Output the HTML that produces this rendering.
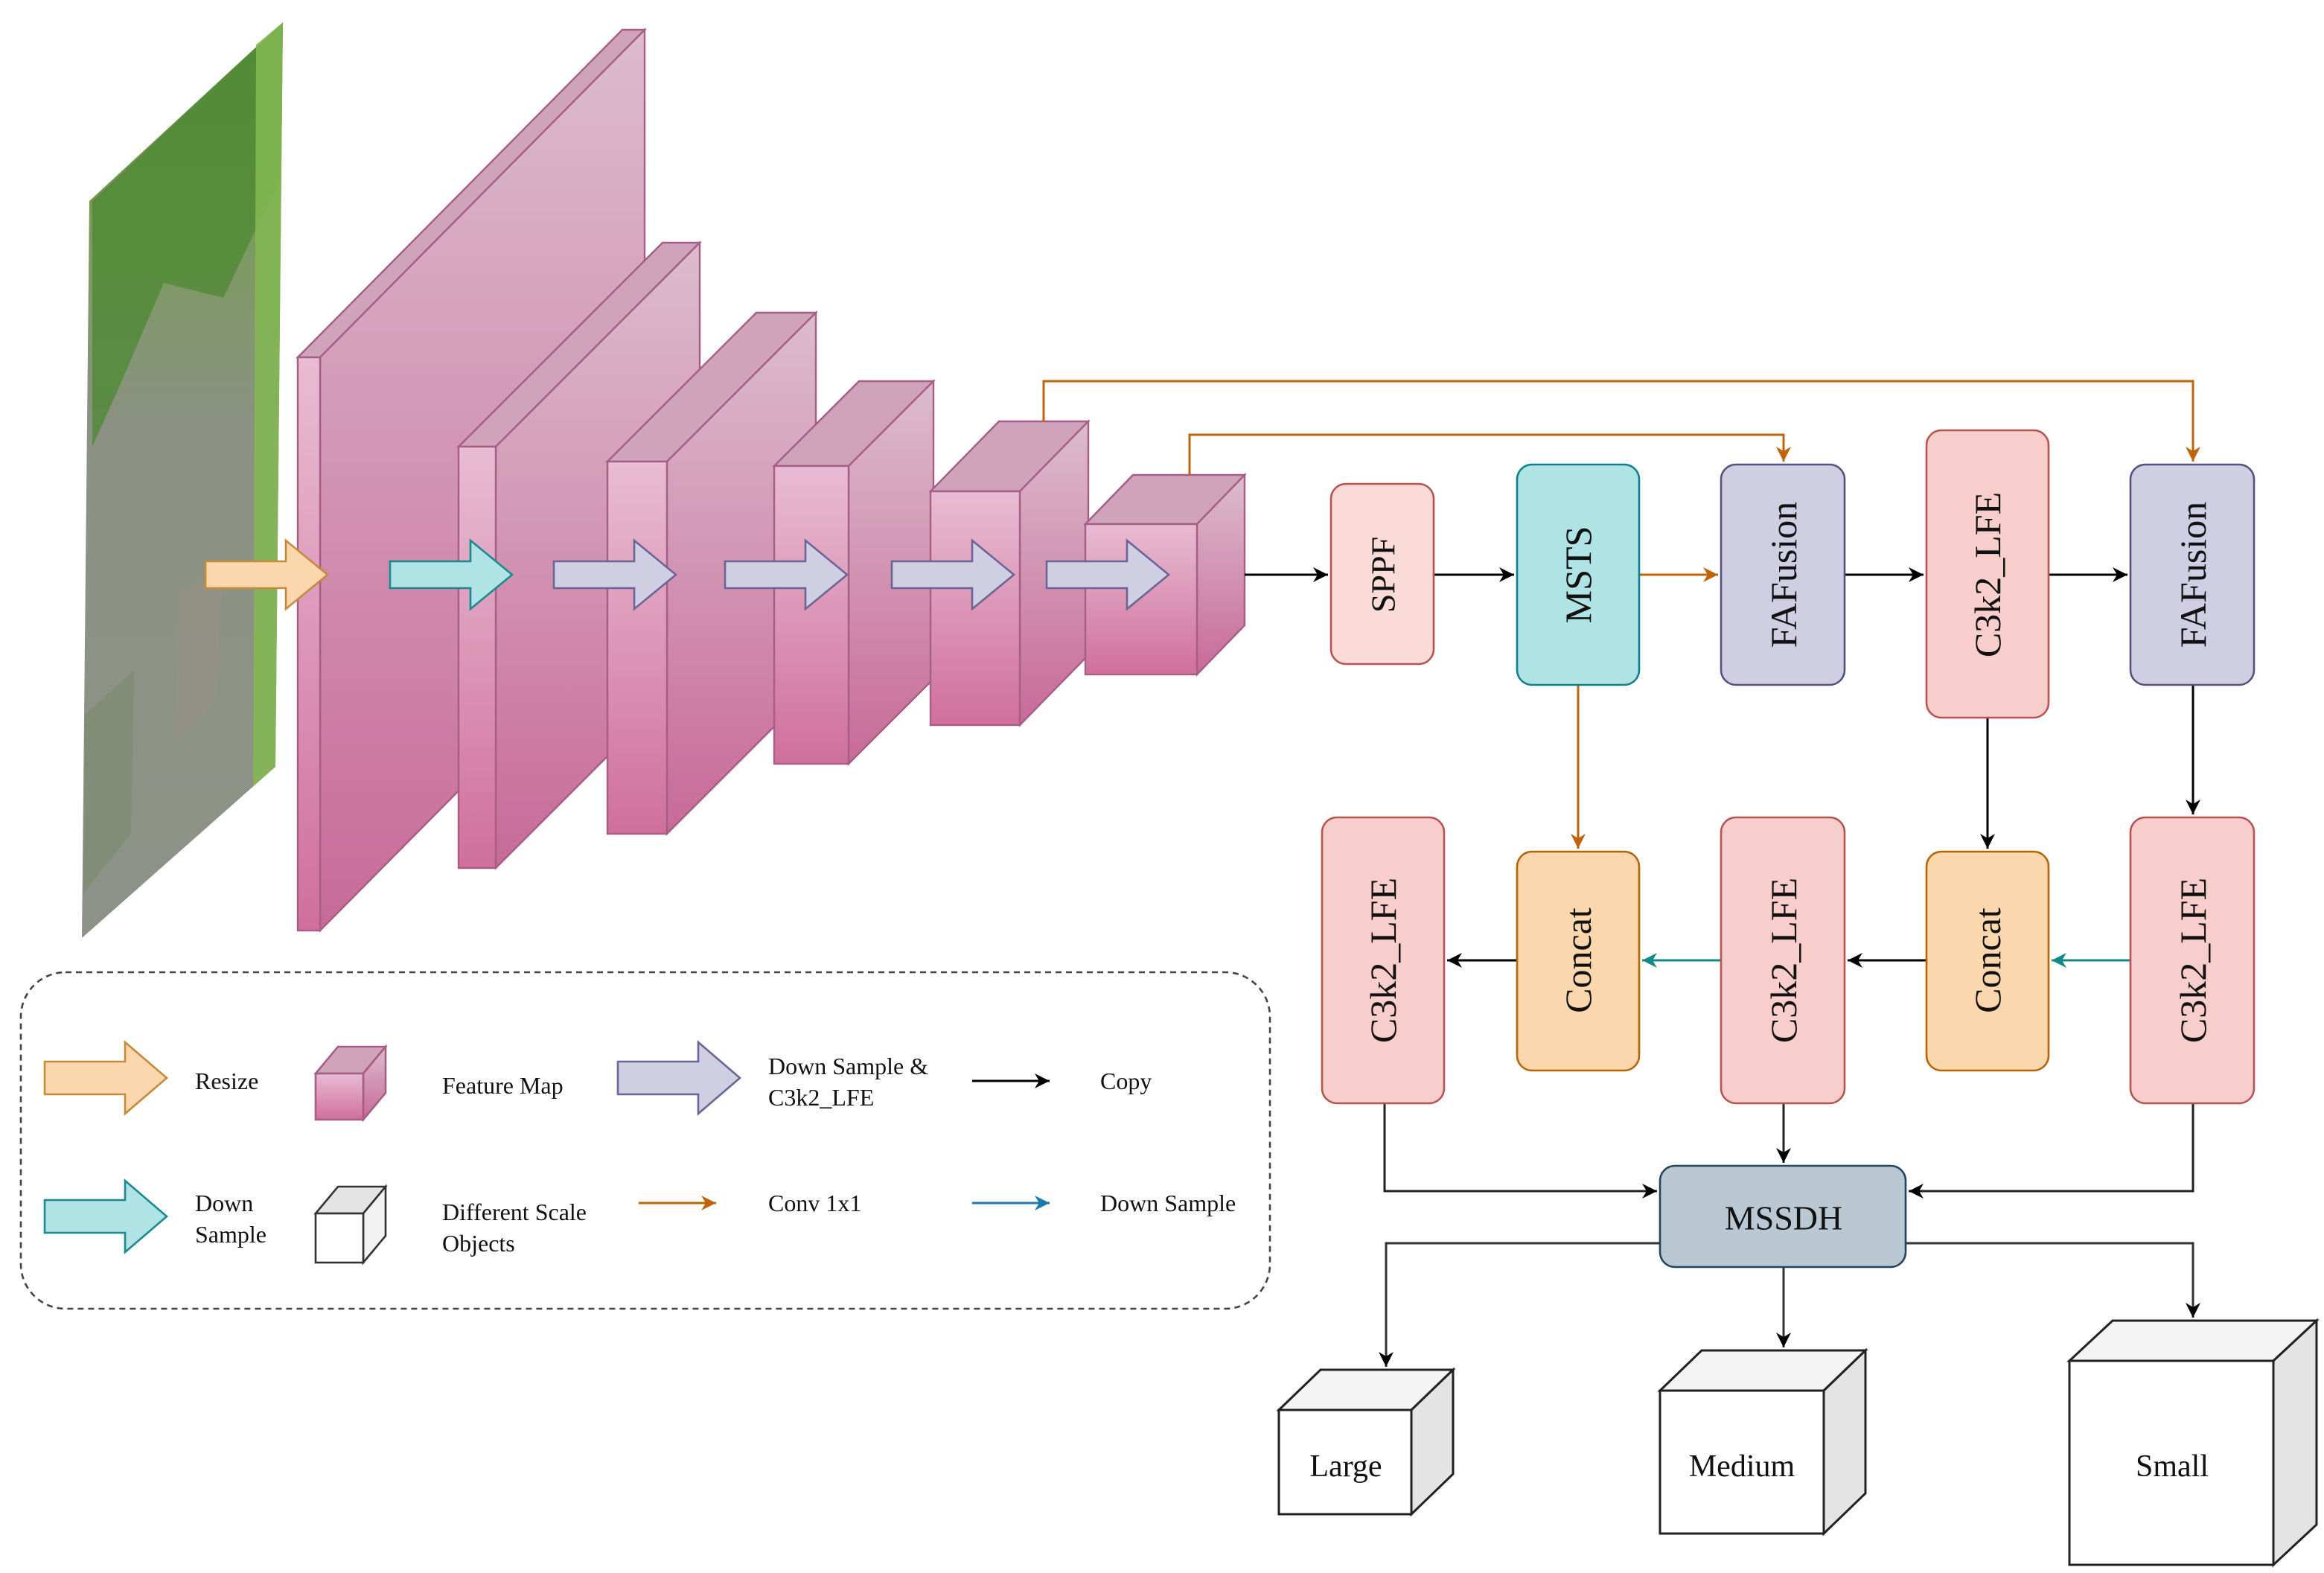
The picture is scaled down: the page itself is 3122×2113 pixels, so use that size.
<!DOCTYPE html>
<html><head><meta charset="utf-8"><style>html,body{margin:0;padding:0;background:#fff}svg{display:block}svg text{font-family:"Liberation Serif","DejaVu Serif",serif}</style></head><body>
<svg width="3122" height="2113" viewBox="0 0 1561 1056.5" xmlns="http://www.w3.org/2000/svg" style="font-family:'Liberation Serif',serif">
<defs>
<linearGradient id="gf" x1="0" y1="0" x2="0" y2="1"><stop offset="0" stop-color="#e8bcd2"/><stop offset="1" stop-color="#d06f9c"/></linearGradient>
<linearGradient id="gs" x1="0" y1="0" x2="0" y2="1"><stop offset="0" stop-color="#dcbccd"/><stop offset="1" stop-color="#c86a98"/></linearGradient>
<linearGradient id="gp" x1="0" y1="0" x2="0" y2="1"><stop offset="0" stop-color="#5d8e3a"/><stop offset="0.25" stop-color="#7d9a62"/><stop offset="0.45" stop-color="#8c9184"/><stop offset="1" stop-color="#8d9288"/></linearGradient>
<marker id="mk" markerUnits="userSpaceOnUse" markerWidth="12" markerHeight="12" refX="10" refY="5" orient="auto"><path d="M0,0 L10,5 L0,10 L3,5 Z" fill="#000"/></marker>
<marker id="mo" markerUnits="userSpaceOnUse" markerWidth="12" markerHeight="12" refX="10" refY="5" orient="auto"><path d="M0,0 L10,5 L0,10 L3,5 Z" fill="#c0640a"/></marker>
<marker id="mt" markerUnits="userSpaceOnUse" markerWidth="12" markerHeight="12" refX="10" refY="5" orient="auto"><path d="M0,0 L10,5 L0,10 L3,5 Z" fill="#128a8a"/></marker>
<marker id="mb" markerUnits="userSpaceOnUse" markerWidth="12" markerHeight="12" refX="10" refY="5" orient="auto"><path d="M0,0 L10,5 L0,10 L3,5 Z" fill="#1a7ab0"/></marker>
</defs>

<!-- photo -->
<polygon points="60,135 190,15 185,515 55,630" fill="url(#gp)"/>
<polygon points="62,135 190,15 188,120 150,200 110,190 80,260 62,300" fill="#4f8a34" opacity="0.8"/>
<polygon points="172,30 190,15 185,515 170,528" fill="#84b852" opacity="0.85"/>
<polygon points="57,480 90,450 88,560 56,600" fill="#7a8a6a" opacity="0.6"/>
<polygon points="120,400 150,380 145,470 118,500" fill="#9a8f84" opacity="0.5"/>

<!-- feature maps -->
<g stroke="#a65d86" stroke-width="1.2">
<polygon points="200,240 418,20 433,20 215,240" fill="#cfa4bb"/>
<polygon points="215,240 433,20 433,405 215,625" fill="url(#gs)"/>
<rect x="200" y="240" width="15" height="385" fill="url(#gf)"/>
<polygon points="308,300 445,163 470,163 333,300" fill="#cfa4bb"/>
<polygon points="333,300 470,163 470,446 333,583" fill="url(#gs)"/>
<rect x="308" y="300" width="25" height="283" fill="url(#gf)"/>
<polygon points="408,310 508,210 548,210 448,310" fill="#cfa4bb"/>
<polygon points="448,310 548,210 548,460 448,560" fill="url(#gs)"/>
<rect x="408" y="310" width="40" height="250" fill="url(#gf)"/>
<polygon points="520,313 577,256 627,256 570,313" fill="#cfa4bb"/>
<polygon points="570,313 627,256 627,456 570,513" fill="url(#gs)"/>
<rect x="520" y="313" width="50" height="200" fill="url(#gf)"/>
<polygon points="625,330 671,283 731,283 685,330" fill="#cfa4bb"/>
<polygon points="685,330 731,283 731,440 685,487" fill="url(#gs)"/>
<rect x="625" y="330" width="60" height="157" fill="url(#gf)"/>
<polygon points="729,352 761,319 836,319 804,352" fill="#cfa4bb"/>
<polygon points="804,352 836,319 836,420 804,453" fill="url(#gs)"/>
<rect x="729" y="352" width="75" height="101" fill="url(#gf)"/>
</g>

<!-- block arrows -->
<g stroke-width="1.3">
<path d="M138,377 L192,377 L192,363 L220,386 L192,409 L192,395 L138,395 Z" fill="#fad7ac" stroke="#c88a3a"/>
<path d="M262,377 L316,377 L316,363 L344,386 L316,409 L316,395 L262,395 Z" fill="#b0e3e6" stroke="#1a8a90"/>
<path d="M372,377 L426,377 L426,363 L454,386 L426,409 L426,395 L372,395 Z" fill="#d0cee2" stroke="#6a6596"/>
<path d="M487,377 L541,377 L541,363 L569,386 L541,409 L541,395 L487,395 Z" fill="#d0cee2" stroke="#6a6596"/>
<path d="M599,377 L653,377 L653,363 L681,386 L653,409 L653,395 L599,395 Z" fill="#d0cee2" stroke="#6a6596"/>
<path d="M703,377 L757,377 L757,363 L785,386 L757,409 L757,395 L703,395 Z" fill="#d0cee2" stroke="#6a6596"/>
</g>

<!-- connectors -->
<g fill="none" stroke-width="1.5">
<path d="M701,283 V256 H1473 V310" stroke="#c0640a" marker-end="url(#mo)"/>
<path d="M799,319 V292 H1198 V310" stroke="#c0640a" marker-end="url(#mo)"/>
<path d="M1101,386 H1154" stroke="#c0640a" marker-end="url(#mo)"/>
<path d="M1060,460 V570" stroke="#c0640a" marker-end="url(#mo)"/>
<path d="M836,386 H892" stroke="#000" marker-end="url(#mk)"/>
<path d="M963,386 H1017" stroke="#000" marker-end="url(#mk)"/>
<path d="M1239,386 H1292" stroke="#000" marker-end="url(#mk)"/>
<path d="M1376,386 H1429" stroke="#000" marker-end="url(#mk)"/>
<path d="M1335,482 V570" stroke="#000" marker-end="url(#mk)"/>
<path d="M1473,460 V547" stroke="#000" marker-end="url(#mk)"/>
<path d="M1431,645 H1378" stroke="#128a8a" marker-end="url(#mt)"/>
<path d="M1294,645 H1241" stroke="#000" marker-end="url(#mk)"/>
<path d="M1156,645 H1103" stroke="#128a8a" marker-end="url(#mt)"/>
<path d="M1019,645 H972" stroke="#000" marker-end="url(#mk)"/>
<path d="M930,741 V800 H1113" stroke="#222" marker-end="url(#mk)"/>
<path d="M1198,741 V781" stroke="#222" marker-end="url(#mk)"/>
<path d="M1473,741 V800 H1282" stroke="#222" marker-end="url(#mk)"/>
<path d="M1115,835 H931 V918" stroke="#333" marker-end="url(#mk)"/>
<path d="M1198,851 V905" stroke="#333" marker-end="url(#mk)"/>
<path d="M1280,835 H1473 V885" stroke="#333" marker-end="url(#mk)"/>
</g>

<!-- nodes -->
<g stroke-width="1.3">
<rect x="894" y="325" width="69" height="121" rx="10" fill="#fadbd8" stroke="#b85450"/>
<rect x="1019" y="312" width="82" height="148" rx="10" fill="#b0e3e6" stroke="#0e8088"/>
<rect x="1156" y="312" width="83" height="148" rx="10" fill="#d0cee2" stroke="#56517e"/>
<rect x="1294" y="289" width="82" height="193" rx="10" fill="#f8cecc" stroke="#b85450"/>
<rect x="1431" y="312" width="83" height="148" rx="10" fill="#d0cee2" stroke="#56517e"/>
<rect x="888" y="549" width="82" height="192" rx="10" fill="#f8cecc" stroke="#b85450"/>
<rect x="1019" y="572" width="82" height="147" rx="10" fill="#fad7ac" stroke="#b46504"/>
<rect x="1156" y="549" width="83" height="192" rx="10" fill="#f8cecc" stroke="#b85450"/>
<rect x="1294" y="572" width="82" height="147" rx="10" fill="#fad7ac" stroke="#b46504"/>
<rect x="1431" y="549" width="83" height="192" rx="10" fill="#f8cecc" stroke="#b85450"/>
<rect x="1115" y="783" width="165" height="68" rx="10" fill="#bac8d3" stroke="#23445d"/>
</g>
<g font-size="25" text-anchor="middle" dominant-baseline="central" fill="#111">
<text transform="translate(929,386) rotate(-90)" font-size="23">SPPF</text>
<text transform="translate(1060,386) rotate(-90)">MSTS</text>
<text transform="translate(1198,386) rotate(-90)">FAFusion</text>
<text transform="translate(1335,386) rotate(-90)">C3k2_LFE</text>
<text transform="translate(1473,386) rotate(-90)">FAFusion</text>
<text transform="translate(929,645) rotate(-90)">C3k2_LFE</text>
<text transform="translate(1060,645) rotate(-90)">Concat</text>
<text transform="translate(1198,645) rotate(-90)">C3k2_LFE</text>
<text transform="translate(1335,645) rotate(-90)">Concat</text>
<text transform="translate(1473,645) rotate(-90)">C3k2_LFE</text>
<text x="1198" y="818" font-size="23">MSSDH</text>
</g>

<!-- output cubes -->
<g stroke="#222" stroke-width="1.5">
<polygon points="859,947 887,920 976,920 948,947" fill="#f4f4f4"/>
<polygon points="948,947 976,920 976,990 948,1017" fill="#e4e4e4"/>
<rect x="859" y="947" width="89" height="70" fill="#fff"/>
<polygon points="1115,934 1143,907 1253,907 1225,934" fill="#f4f4f4"/>
<polygon points="1225,934 1253,907 1253,1003 1225,1030" fill="#e4e4e4"/>
<rect x="1115" y="934" width="110" height="96" fill="#fff"/>
<polygon points="1390,914 1419,887 1556,887 1527,914" fill="#f4f4f4"/>
<polygon points="1527,914 1556,887 1556,1024 1527,1051" fill="#e4e4e4"/>
<rect x="1390" y="914" width="137" height="137" fill="#fff"/>
</g>
<g font-size="21" text-anchor="middle" dominant-baseline="central" fill="#111">
<text x="904" y="985">Large</text>
<text x="1170" y="985">Medium</text>
<text x="1459" y="985">Small</text>
</g>

<!-- legend -->
<rect x="14" y="653" width="839" height="226" rx="30" fill="none" stroke="#444" stroke-width="1.3" stroke-dasharray="4,3"/>
<g stroke-width="1.3">
<path d="M30,713 L84,713 L84,700 L112,724 L84,748 L84,735 L30,735 Z" fill="#fad7ac" stroke="#c88a3a"/>
<path d="M30,806 L84,806 L84,793 L112,817 L84,841 L84,828 L30,828 Z" fill="#b0e3e6" stroke="#1a8a90"/>
<path d="M415,713 L469,713 L469,700 L497,724 L469,748 L469,735 L415,735 Z" fill="#d0cee2" stroke="#6a6596"/>
<polygon points="212,721 227,703 259,703 244,721" fill="#cfa4bb" stroke="#a65d86"/>
<polygon points="244,721 259,703 259,734 244,752" fill="url(#gs)" stroke="#a65d86"/>
<rect x="212" y="721" width="32" height="31" fill="url(#gf)" stroke="#a65d86"/>
<polygon points="212,815 227,797 259,797 244,815" fill="#e4e4e4" stroke="#333"/>
<polygon points="244,815 259,797 259,830 244,848" fill="#f2f2f2" stroke="#333"/>
<rect x="212" y="815" width="32" height="33" fill="#fff" stroke="#333"/>
</g>
<g fill="none" stroke-width="1.5">
<path d="M653,726 H705" stroke="#000" marker-end="url(#mk)"/>
<path d="M429,808 H481" stroke="#c0640a" marker-end="url(#mo)"/>
<path d="M653,808 H705" stroke="#1a7ab0" marker-end="url(#mb)"/>
</g>
<g font-size="16" fill="#111" dominant-baseline="central">
<text x="131" y="726">Resize</text>
<text x="297" y="729">Feature Map</text>
<text x="516" y="716">Down Sample &amp;</text>
<text x="516" y="737">C3k2_LFE</text>
<text x="739" y="726">Copy</text>
<text x="131" y="808">Down</text>
<text x="131" y="829">Sample</text>
<text x="297" y="814">Different Scale</text>
<text x="297" y="835">Objects</text>
<text x="516" y="808">Conv 1x1</text>
<text x="739" y="808">Down Sample</text>
</g>
</svg>
</body></html>
